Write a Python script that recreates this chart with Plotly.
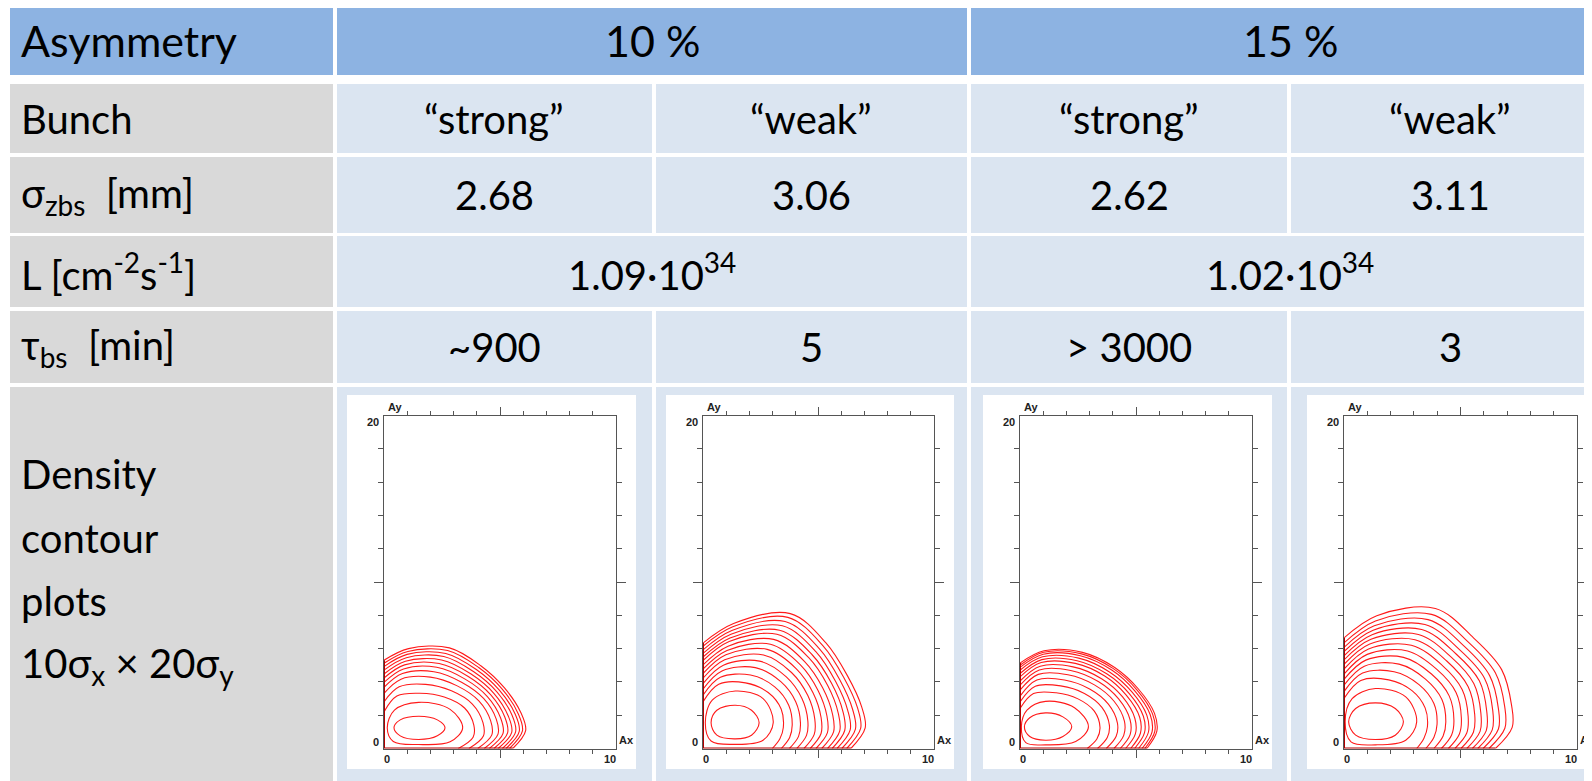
import numpy as np
import plotly.graph_objects as go

W, H = 1592, 781          # browser window
OFF = 8                   # default page margin around the figure
FW, FH = W - OFF, H - OFF  # figure size so that it fills the window exactly

# ---------------- table data ----------------
ROW_LABELS = ["Asymmetry", "Bunch", "σ<sub>zbs</sub>\u00a0\u00a0[mm]",
              "L [cm<sup>-2</sup>s<sup>-1</sup>]", "τ<sub>bs</sub>\u00a0\u00a0[min]"]
ASYMMETRY = ["10 %", "15 %"]
BUNCH = ["\u201cstrong\u201d", "\u201cweak\u201d", "\u201cstrong\u201d", "\u201cweak\u201d"]
SIGMA_ZBS = ["2.68", "3.06", "2.62", "3.11"]
LUMI = ["1.09·10<sup>34</sup>", "1.02·10<sup>34</sup>"]
TAU_BS = ["~900", "5", "> 3000", "3"]
DENSITY_LABEL = ["Density", "contour", "plots", "10σ<sub>x</sub> × 20σ<sub>y</sub>"]

# ---------------- contour data ----------------
# open contours: distance from the origin of (Ax, Ay) at these ray angles
ANGLES_DEG = [0, 10, 20, 35, 50, 65, 80, 90]

P1_OPEN = [
    [3.20, 3.90, 4.12, 4.24, 4.04, 3.66, 3.20, 2.20],
    [3.66, 4.35, 4.54, 4.65, 4.52, 4.25, 3.76, 2.80],
    [4.04, 4.72, 4.89, 4.99, 4.91, 4.73, 4.23, 3.31],
    [4.32, 4.99, 5.15, 5.24, 5.20, 5.09, 4.57, 3.67],
    [4.54, 5.21, 5.35, 5.44, 5.44, 5.38, 4.85, 3.97],
    [4.74, 5.41, 5.54, 5.62, 5.65, 5.63, 5.10, 4.23],
    [4.92, 5.59, 5.70, 5.78, 5.84, 5.87, 5.32, 4.47],
    [5.10, 5.76, 5.87, 5.94, 6.02, 6.10, 5.54, 4.71],
    [5.26, 5.92, 6.02, 6.08, 6.19, 6.30, 5.74, 4.92],
    [5.41, 6.06, 6.15, 6.22, 6.35, 6.49, 5.92, 5.12],
    [5.55, 6.20, 6.28, 6.34, 6.49, 6.67, 6.09, 5.30],
]
P1_CLOSED_X = [[0.43, 0.70, 1.50, 2.30, 2.63, 2.30, 1.50, 0.70],
               [0.14, 0.45, 1.50, 2.85, 3.39, 2.85, 1.50, 0.40]]
P1_CLOSED_Y = [[1.24, 1.72, 1.94, 1.72, 1.24, 0.76, 0.54, 0.76],
               [1.24, 2.30, 2.77, 2.35, 1.24, 0.40, 0.24, 0.42]]

P2_OPEN = [
    [3.00, 3.38, 3.70, 4.13, 4.39, 4.35, 3.92, 2.80],
    [3.39, 3.81, 4.11, 4.53, 4.83, 4.87, 4.34, 3.20],
    [3.74, 4.20, 4.49, 4.90, 5.24, 5.36, 4.73, 3.57],
    [4.06, 4.55, 4.83, 5.23, 5.61, 5.79, 5.08, 3.90],
    [4.37, 4.89, 5.15, 5.54, 5.96, 6.20, 5.41, 4.22],
    [4.64, 5.19, 5.44, 5.82, 6.27, 6.57, 5.71, 4.50],
    [4.89, 5.47, 5.71, 6.08, 6.56, 6.91, 5.98, 4.77],
    [5.14, 5.74, 5.97, 6.33, 6.83, 7.23, 6.24, 5.02],
    [5.39, 6.01, 6.23, 6.59, 7.12, 7.57, 6.52, 5.28],
    [5.59, 6.23, 6.45, 6.80, 7.35, 7.84, 6.74, 5.49],
    [5.80, 6.47, 6.67, 7.01, 7.60, 8.13, 6.97, 5.71],
    [6.01, 6.70, 6.89, 7.22, 7.83, 8.41, 7.19, 5.92],
    [6.22, 6.93, 7.12, 7.44, 8.07, 8.69, 7.42, 6.14],
    [6.40, 7.13, 7.31, 7.63, 8.28, 8.94, 7.62, 6.33],
]
P2_CLOSED_X = [[0.35, 0.60, 1.40, 2.10, 2.43, 2.10, 1.40, 0.60],
               [0.10, 0.40, 1.40, 2.60, 3.04, 2.60, 1.40, 0.35]]
P2_CLOSED_Y = [[1.55, 2.30, 2.60, 2.30, 1.55, 0.80, 0.58, 0.80],
               [1.55, 2.90, 3.45, 3.00, 1.55, 0.50, 0.25, 0.45]]

P3_OPEN = [
    [2.90, 3.37, 3.67, 3.91, 3.89, 3.69, 3.35, 2.40],
    [3.34, 3.82, 4.10, 4.31, 4.32, 4.15, 3.80, 2.80],
    [3.72, 4.21, 4.47, 4.65, 4.67, 4.54, 4.18, 3.15],
    [4.05, 4.54, 4.79, 4.95, 4.99, 4.89, 4.52, 3.50],
    [4.32, 4.82, 5.05, 5.19, 5.25, 5.17, 4.79, 3.80],
    [4.55, 5.05, 5.27, 5.40, 5.47, 5.41, 5.02, 4.05],
    [4.77, 5.27, 5.49, 5.59, 5.68, 5.64, 5.24, 4.30],
    [4.94, 5.45, 5.66, 5.75, 5.84, 5.82, 5.42, 4.50],
    [5.11, 5.62, 5.82, 5.90, 6.00, 5.99, 5.59, 4.70],
    [5.26, 5.78, 5.97, 6.04, 6.15, 6.15, 5.75, 4.87],
    [5.38, 5.90, 6.08, 6.15, 6.26, 6.27, 5.87, 5.00],
    [5.47, 5.99, 6.17, 6.23, 6.35, 6.37, 5.96, 5.13],
]
P3_CLOSED_X = [[0.19, 0.42, 1.10, 1.85, 2.23, 1.85, 1.10, 0.42],
               [0.06, 0.30, 1.10, 2.35, 2.95, 2.40, 1.10, 0.25]]
P3_CLOSED_Y = [[1.30, 1.85, 2.14, 1.90, 1.30, 0.72, 0.50, 0.72],
               [1.30, 2.30, 2.83, 2.45, 1.30, 0.42, 0.22, 0.35]]

P4_OPEN = [
    [3.12, 3.48, 3.81, 4.25, 4.54, 4.55, 4.15, 3.00],
    [3.51, 3.92, 4.25, 4.71, 5.01, 5.09, 4.60, 3.42],
    [3.86, 4.32, 4.65, 5.13, 5.44, 5.59, 5.02, 3.80],
    [4.18, 4.69, 5.02, 5.51, 5.84, 6.04, 5.39, 4.15],
    [4.48, 5.03, 5.36, 5.87, 6.20, 6.46, 5.74, 4.47],
    [4.76, 5.35, 5.67, 6.19, 6.54, 6.84, 6.07, 4.77],
    [5.02, 5.64, 5.97, 6.50, 6.86, 7.21, 6.37, 5.05],
    [5.27, 5.93, 6.25, 6.80, 7.16, 7.56, 6.66, 5.32],
    [5.51, 6.20, 6.52, 7.09, 7.45, 7.89, 6.94, 5.57],
    [5.74, 6.46, 6.79, 7.36, 7.73, 8.22, 7.21, 5.82],
    [5.97, 6.73, 7.05, 7.63, 8.02, 8.54, 7.48, 6.07],
    [6.22, 7.01, 7.34, 7.93, 8.32, 8.89, 7.78, 6.34],
    [6.50, 7.33, 7.65, 8.26, 8.66, 9.28, 8.10, 6.64],
]
P4_CLOSED_X = [[0.20, 0.50, 1.35, 2.20, 2.55, 2.20, 1.35, 0.50],
               [0.05, 0.35, 1.35, 2.65, 3.12, 2.65, 1.35, 0.30]]
P4_CLOSED_Y = [[1.60, 2.40, 2.74, 2.40, 1.60, 0.80, 0.54, 0.80],
               [1.60, 3.00, 3.60, 3.10, 1.60, 0.50, 0.22, 0.40]]

AX_RANGE = [0, 10]
AY_RANGE = [0, 20]

# ---------------- styling / geometry ----------------
HEAD_BLUE = "#8DB3E2"
LABEL_GRAY = "#D9D9D9"
CELL_BLUE = "#DBE5F1"
RED = "#FF1A1A"
DARKRED = "#B00000"
FRAME = "#555555"
FONT = "Lato"
BODY_SIZE = 40
HEAD_SIZE = 43


def fx(x):   # window pixel -> paper fraction
    return (x - OFF) / FW


def fy(y):
    return 1 - (y - OFF) / FH


fig = go.Figure()
shapes = []


def rect(x0, y0, x1, y1, color):
    shapes.append(dict(type="rect", xref="paper", yref="paper",
                       x0=fx(x0), x1=fx(x1), y0=fy(y1), y1=fy(y0),
                       fillcolor=color, line=dict(width=0), layer="below"))


COL0 = (10, 333)
COLS = [(337, 652), (656, 967), (971, 1287), (1291, 1620)]
SPAN = [(337, 967), (971, 1620)]
ROWS = [(6, 75), (84, 153), (157, 233), (236, 307), (311, 383), (387, 790)]

rect(COL0[0], ROWS[0][0], COL0[1], ROWS[0][1], HEAD_BLUE)
for a, b in SPAN:
    rect(a, ROWS[0][0], b, ROWS[0][1], HEAD_BLUE)
for r in ROWS[1:]:
    rect(COL0[0], r[0], COL0[1], r[1], LABEL_GRAY)
for ri in (1, 2, 4, 5):
    for a, b in COLS:
        rect(a, ROWS[ri][0], b, ROWS[ri][1], CELL_BLUE)
for a, b in SPAN:
    rect(a, ROWS[3][0], b, ROWS[3][1], CELL_BLUE)
BOXES = [(347, 636), (666, 954), (983, 1272), (1307, 1620)]
for a, b in BOXES:
    rect(a, 395, b, 769, "white")

annotations = []


def text(x, y, s, size=BODY_SIZE, anchor="center"):
    annotations.append(dict(xref="paper", yref="paper", x=fx(x), y=fy(y), text=s,
                            showarrow=False, xanchor=anchor, yanchor="middle",
                            font=dict(family=FONT, size=size, color="black")))


def ctr(r):
    return (r[0] + r[1]) / 2


LABEL_X = 19
text(LABEL_X, ctr(ROWS[0]), ROW_LABELS[0], HEAD_SIZE, "left")
for i, lab in enumerate(ROW_LABELS[1:]):
    text(LABEL_X, ctr(ROWS[i + 1]), lab, BODY_SIZE, "left")
COL_CENTERS = [494, 811, 1129, 1450]
SPAN_CENTERS = [652, 1290]
for c, s in zip(SPAN_CENTERS, ASYMMETRY):
    text(c, ctr(ROWS[0]), s, HEAD_SIZE)
for c, s in zip(COL_CENTERS, BUNCH):
    text(c, ctr(ROWS[1]), s)
for c, s in zip(COL_CENTERS, SIGMA_ZBS):
    text(c, ctr(ROWS[2]), s)
for c, s in zip(SPAN_CENTERS, LUMI):
    text(c, ctr(ROWS[3]), s)
for c, s in zip(COL_CENTERS, TAU_BS):
    text(c, ctr(ROWS[4]), s)
for k, s in enumerate(DENSITY_LABEL):
    text(LABEL_X, 474 + 63.7 * k, s, BODY_SIZE, "left")

# ---------------- contour subplots ----------------
FRAMES_X = [(384, 616), (703, 934), (1020, 1252), (1344, 1577)]
FRAME_Y = (415.5, 748.5)
PLOTS = [(P1_OPEN, P1_CLOSED_X, P1_CLOSED_Y),
         (P2_OPEN, P2_CLOSED_X, P2_CLOSED_Y),
         (P3_OPEN, P3_CLOSED_X, P3_CLOSED_Y),
         (P4_OPEN, P4_CLOSED_X, P4_CLOSED_Y)]
ang = np.deg2rad(ANGLES_DEG)
lab_font = dict(family="Liberation Sans", size=11, color="#222222")

layout_axes = {}
for i, (opn, cxs, cys) in enumerate(PLOTS):
    n = "" if i == 0 else str(i + 1)
    xa, ya = "x" + n, "y" + n
    x0, x1 = FRAMES_X[i]
    layout_axes["xaxis" + n] = dict(
        domain=[fx(x0), fx(x1)], range=AX_RANGE, anchor=ya,
        showline=True, linecolor=FRAME, linewidth=1, mirror="ticks",
        ticks="outside", tickvals=[5], ticklen=8, tickcolor=FRAME, tickwidth=1,
        showticklabels=False, showgrid=False, zeroline=False, fixedrange=True,
        layer="below traces",
        minor=dict(tickvals=[1, 2, 3, 4, 6, 7, 8, 9], ticks="outside", ticklen=4,
                   tickcolor=FRAME, tickwidth=1, showgrid=False))
    layout_axes["yaxis" + n] = dict(
        domain=[fy(FRAME_Y[1]), fy(FRAME_Y[0])], range=AY_RANGE, anchor=xa,
        showline=True, linecolor=FRAME, linewidth=1, mirror="ticks",
        ticks="outside", tickvals=[10], ticklen=9, tickcolor=FRAME, tickwidth=1,
        showticklabels=False, showgrid=False, zeroline=False, fixedrange=True,
        layer="below traces",
        minor=dict(tickvals=[2, 4, 6, 8, 12, 14, 16, 18], ticks="outside", ticklen=5,
                   tickcolor=FRAME, tickwidth=1, showgrid=False))

    line = dict(color=RED, width=1.1, shape="spline", smoothing=1.0)
    for xs, ys in zip(cxs, cys):
        fig.add_trace(go.Scatter(x=xs + xs[:1], y=ys + ys[:1], mode="lines", line=line,
                                 xaxis=xa, yaxis=ya, hoverinfo="skip", showlegend=False))
    for r in opn:
        r = np.array(r)
        fig.add_trace(go.Scatter(x=r * np.cos(ang), y=r * np.sin(ang), mode="lines", line=line,
                                 xaxis=xa, yaxis=ya, hoverinfo="skip", showlegend=False))
    outer = opn[-1]
    fig.add_trace(go.Scatter(x=[0, 0, outer[0]], y=[outer[-1], 0, 0], mode="lines",
                             line=dict(color=DARKRED, width=2), xaxis=xa, yaxis=ya,
                             hoverinfo="skip", showlegend=False))

    def lab(x, y, s, xanchor, yanchor, xs=0, ys=0):
        annotations.append(dict(xref=xa, yref=ya, x=x, y=y, text=s, showarrow=False,
                                xanchor=xanchor, yanchor=yanchor, xshift=xs, yshift=ys,
                                font=lab_font))

    lab(0, AY_RANGE[1], "<b>Ay</b>", "left", "bottom", 2, 1)
    lab(0, AY_RANGE[1], "<b>20</b>", "right", "top", -3, 2)
    lab(0, 0, "<b>0</b>", "right", "bottom", -3, -1)
    lab(0, 0, "<b>0</b>", "left", "top", -2, -2)
    lab(AX_RANGE[1], 0, "<b>10</b>", "right", "top", 2, -2)
    lab(AX_RANGE[1], 0, "<b>Ax</b>", "left", "bottom", 1, 1)

fig.update_layout(
    width=FW, height=FH, margin=dict(l=0, r=0, t=0, b=0),
    paper_bgcolor="white", plot_bgcolor="white",
    shapes=shapes, annotations=annotations, showlegend=False,
    **layout_axes)

fig.write_html("out.html")
